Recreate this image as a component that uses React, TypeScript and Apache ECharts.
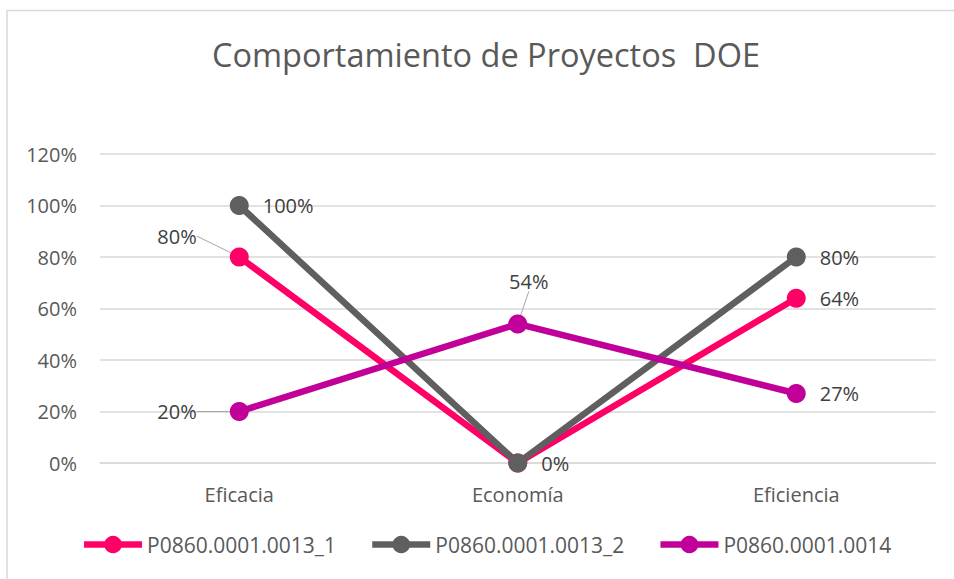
import React, { useEffect, useRef } from "react";
import * as echarts from "echarts";

const categories = ["Eficacia", "Economía", "Eficiencia"];
const seriesNames = ["P0860.0001.0013_1", "P0860.0001.0013_2", "P0860.0001.0014"];
const values1 = [80, 0, 64];
const values2 = [100, 0, 80];
const values3 = [20, 54, 27];
const colors = ["#FF0066", "#5F5F5F", "#C00099"];
const titleText = "Comportamiento de Proyectos  DOE";

const FONT = "'Open Sans', sans-serif";

export default function App() {
  const ref = useRef<HTMLDivElement>(null);
  useEffect(() => {
    if (!ref.current) return;
    const chart = echarts.init(ref.current, null, { renderer: "svg" });
    const labelBase = {
      show: true,
      position: "right",
      distance: 14,
      formatter: "{c}%",
      color: "#404040",
      fontSize: 20,
      fontFamily: FONT,
    };
    const leader = { show: true, lineStyle: { color: "#A6A6A6", width: 1 } };
    const mk = (vals: number[], overrides: Record<number, any>) =>
      vals.map((v, i) =>
        overrides[i] ? { value: v, label: overrides[i], labelLine: overrides[i].show === false ? undefined : leader } : { value: v }
      );

    const leftLbl = { position: "left", distance: 32, padding: [0, 8, 0, 0] };
    const data1 = mk(values1, { 0: leftLbl, 1: { show: false } });
    const data2 = mk(values2, {});
    const data3 = mk(values3, { 0: leftLbl, 1: { position: "top", distance: 5, padding: [0, 0, 4, 0] } });

    const common = {
      type: "line",
      symbol: "circle",
      symbolSize: 19,
      lineStyle: { width: 6.5 },
      label: labelBase,
      labelLine: { show: false },
      emphasis: { disabled: true },
    };

    chart.setOption({
      animation: false,
      backgroundColor: "#ffffff",
      title: {
        text: titleText,
        left: "center",
        top: 33,
        textStyle: { fontFamily: FONT, fontSize: 32.5, fontWeight: "normal", color: "#595959" },
      },
      graphic: [
        {
          type: "rect",
          shape: { x: 7, y: 10.5, width: 963, height: 620 },
          style: { fill: "none", stroke: "#D9D9D9", lineWidth: 1.5 },
          silent: true,
        },
      ],
      legend: {
        bottom: 19,
        left: "center",
        itemWidth: 58,
        itemHeight: 22,
        itemGap: 33,
        lineStyle: { width: 6.5 },
        textStyle: { fontFamily: FONT, fontSize: 21, color: "#595959" },
        data: seriesNames,
      },
      grid: { left: 100, right: 36.5, top: 154, bottom: 116, containLabel: false },
      xAxis: {
        type: "category",
        data: categories,
        boundaryGap: true,
        axisLine: { show: true, lineStyle: { color: "#D9D9D9", width: 1.5 } },
        axisTick: { show: false },
        axisLabel: { margin: 21, fontFamily: FONT, fontSize: 20, color: "#595959" },
      },
      yAxis: {
        type: "value",
        min: 0,
        max: 120,
        interval: 20,
        axisLine: { show: false },
        axisTick: { show: false },
        splitLine: { lineStyle: { color: "#D9D9D9", width: 1.5 } },
        axisLabel: { margin: 23, formatter: "{value}%", fontFamily: FONT, fontSize: 20, color: "#595959" },
      },
      series: [
        {
          ...common,
          name: seriesNames[0],
          data: data1,
          color: colors[0],
          labelLayout: (p: any) => (p.dataIndex === 0 ? { dx: 7, dy: -21 } : {}),
        },
        {
          ...common,
          name: seriesNames[1],
          data: data2,
          color: colors[1],
        },
        {
          ...common,
          name: seriesNames[2],
          data: data3,
          color: colors[2],
          labelLayout: (p: any) => (p.dataIndex === 0 ? { dx: 7 } : p.dataIndex === 1 ? { dx: 11, dy: -14 } : {}),
        },
      ],
    });
    return () => chart.dispose();
  }, []);
  return (
    <div style={{ position: "fixed", left: 0, top: 0, width: 954, height: 579, overflow: "hidden", background: "#fff" }}>
      <div ref={ref} style={{ width: 972, height: 579 }} />
    </div>
  );
}
